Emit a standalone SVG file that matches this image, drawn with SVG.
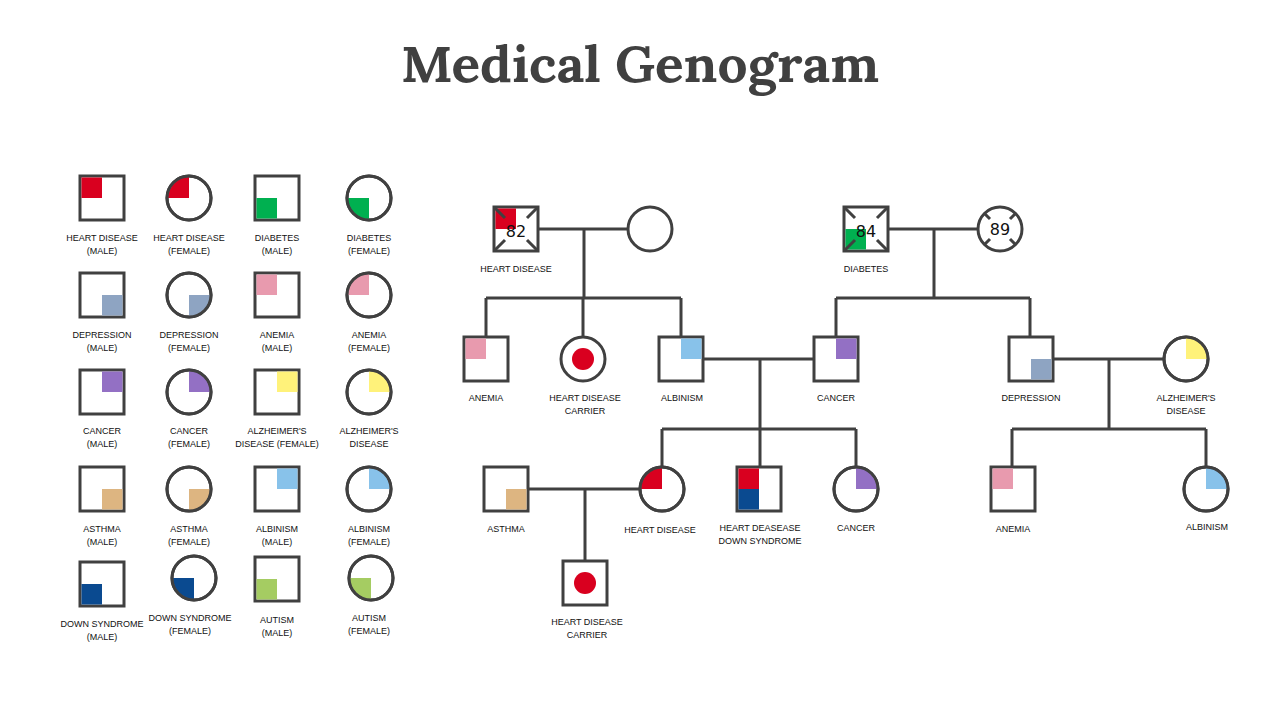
<svg xmlns="http://www.w3.org/2000/svg" width="1280" height="720" viewBox="0 0 1280 720">
<style>
.s{fill:#fff;stroke:#404040;stroke-width:3}
.f{fill:none;stroke:#404040;stroke-width:3}
.ln{fill:none;stroke:#404040;stroke-width:3}
.t{font-family:"Liberation Sans",Arial,sans-serif;font-size:9px;fill:#111;text-anchor:middle}
.n{font-family:"DejaVu Sans",sans-serif;font-size:16px;fill:#111;text-anchor:middle}
.hd{fill:#D9001F}.db{fill:#00B050}.an{fill:#E89AAE}.dp{fill:#8EA4C2}.ca{fill:#9370C4}.az{fill:#FFF27A}.as{fill:#DDB581}.al{fill:#88C2EA}.ds{fill:#0A4A90}.au{fill:#A5CC62}
</style>
<rect width="1280" height="720" fill="#fff"/>
<text x="640" y="82" font-family="Lora,'DejaVu Serif','Liberation Serif',serif" font-weight="bold" font-size="50" fill="#404040" text-anchor="middle" textLength="478" lengthAdjust="spacingAndGlyphs">Medical Genogram</text>

<g id="legend">
<g id="lg-hd-m"><rect class="s" x="80" y="176" width="44" height="44"/><rect class="hd" x="81.5" y="177.5" width="20.5" height="20.5"/><text class="t" x="102" y="241">HEART DISEASE</text><text class="t" x="102" y="254">(MALE)</text></g>
<g id="lg-hd-f"><circle class="s" cx="189" cy="198" r="22"/><path class="hd" d="M189 198H168A21 21 0 0 1 189 177Z"/><circle class="f" cx="189" cy="198" r="22"/><text class="t" x="189" y="241">HEART DISEASE</text><text class="t" x="189" y="254">(FEMALE)</text></g>
<g id="lg-db-m"><rect class="s" x="255" y="176" width="44" height="44"/><rect class="db" x="256.5" y="198" width="20.5" height="20.5"/><text class="t" x="277" y="241">DIABETES</text><text class="t" x="277" y="254">(MALE)</text></g>
<g id="lg-db-f"><circle class="s" cx="369" cy="198" r="22"/><path class="db" d="M369 198V219A21 21 0 0 1 348 198Z"/><circle class="f" cx="369" cy="198" r="22"/><text class="t" x="369" y="241">DIABETES</text><text class="t" x="369" y="254">(FEMALE)</text></g>

<g id="lg-dp-m"><rect class="s" x="80" y="273" width="44" height="44"/><rect class="dp" x="102" y="295" width="20.5" height="20.5"/><text class="t" x="102" y="338">DEPRESSION</text><text class="t" x="102" y="351">(MALE)</text></g>
<g id="lg-dp-f"><circle class="s" cx="189" cy="295" r="22"/><path class="dp" d="M189 295H210A21 21 0 0 1 189 316Z"/><circle class="f" cx="189" cy="295" r="22"/><text class="t" x="189" y="338">DEPRESSION</text><text class="t" x="189" y="351">(FEMALE)</text></g>
<g id="lg-an-m"><rect class="s" x="255" y="273" width="44" height="44"/><rect class="an" x="256.5" y="274.5" width="20.5" height="20.5"/><text class="t" x="277" y="338">ANEMIA</text><text class="t" x="277" y="351">(MALE)</text></g>
<g id="lg-an-f"><circle class="s" cx="369" cy="295" r="22"/><path class="an" d="M369 295H348A21 21 0 0 1 369 274Z"/><circle class="f" cx="369" cy="295" r="22"/><text class="t" x="369" y="338">ANEMIA</text><text class="t" x="369" y="351">(FEMALE)</text></g>

<g id="lg-ca-m"><rect class="s" x="80" y="370" width="44" height="44"/><rect class="ca" x="102" y="371.5" width="20.5" height="20.5"/><text class="t" x="102" y="434">CANCER</text><text class="t" x="102" y="447">(MALE)</text></g>
<g id="lg-ca-f"><circle class="s" cx="189" cy="392" r="22"/><path class="ca" d="M189 392V371A21 21 0 0 1 210 392Z"/><circle class="f" cx="189" cy="392" r="22"/><text class="t" x="189" y="434">CANCER</text><text class="t" x="189" y="447">(FEMALE)</text></g>
<g id="lg-az-m"><rect class="s" x="255" y="370" width="44" height="44"/><rect class="az" x="277" y="371.5" width="20.5" height="20.5"/><text class="t" x="277" y="434">ALZHEIMER'S</text><text class="t" x="277" y="447">DISEASE (FEMALE)</text></g>
<g id="lg-az-f"><circle class="s" cx="369" cy="392" r="22"/><path class="az" d="M369 392V371A21 21 0 0 1 390 392Z"/><circle class="f" cx="369" cy="392" r="22"/><text class="t" x="369" y="434">ALZHEIMER'S</text><text class="t" x="369" y="447">DISEASE</text></g>

<g id="lg-as-m"><rect class="s" x="80" y="467" width="44" height="44"/><rect class="as" x="102" y="489" width="20.5" height="20.5"/><text class="t" x="102" y="532">ASTHMA</text><text class="t" x="102" y="545">(MALE)</text></g>
<g id="lg-as-f"><circle class="s" cx="189" cy="489" r="22"/><path class="as" d="M189 489H210A21 21 0 0 1 189 510Z"/><circle class="f" cx="189" cy="489" r="22"/><text class="t" x="189" y="532">ASTHMA</text><text class="t" x="189" y="545">(FEMALE)</text></g>
<g id="lg-al-m"><rect class="s" x="255" y="467" width="44" height="44"/><rect class="al" x="277" y="468.5" width="20.5" height="20.5"/><text class="t" x="277" y="532">ALBINISM</text><text class="t" x="277" y="545">(MALE)</text></g>
<g id="lg-al-f"><circle class="s" cx="369" cy="489" r="22"/><path class="al" d="M369 489V468A21 21 0 0 1 390 489Z"/><circle class="f" cx="369" cy="489" r="22"/><text class="t" x="369" y="532">ALBINISM</text><text class="t" x="369" y="545">(FEMALE)</text></g>

<g id="lg-ds-m"><rect class="s" x="80" y="562" width="44" height="44"/><rect class="ds" x="81.5" y="584" width="20.5" height="20.5"/><text class="t" x="102" y="627">DOWN SYNDROME</text><text class="t" x="102" y="640">(MALE)</text></g>
<g id="lg-ds-f"><circle class="s" cx="194" cy="578" r="22"/><path class="ds" d="M194 578V599A21 21 0 0 1 173 578Z"/><circle class="f" cx="194" cy="578" r="22"/><text class="t" x="190" y="621">DOWN SYNDROME</text><text class="t" x="190" y="634">(FEMALE)</text></g>
<g id="lg-au-m"><rect class="s" x="255" y="557" width="44" height="44"/><rect class="au" x="256.5" y="579" width="20.5" height="20.5"/><text class="t" x="277" y="623">AUTISM</text><text class="t" x="277" y="636">(MALE)</text></g>
<g id="lg-au-f"><circle class="s" cx="371" cy="578" r="22"/><path class="au" d="M371 578V599A21 21 0 0 1 350 578Z"/><circle class="f" cx="371" cy="578" r="22"/><text class="t" x="369" y="621">AUTISM</text><text class="t" x="369" y="634">(FEMALE)</text></g>
</g>

<g id="connectors">
<path class="ln" d="M538 229H628M584 229V298M486 298H681M486 298V337M583 298V337M681 298V337"/>
<path class="ln" d="M703 359H814M760 359V429M662 429H856M662 429V467M760 429V467M856 429V467"/>
<path class="ln" d="M888 229H978M934 229V298M836 298H1030M836 298V337M1030 298V337"/>
<path class="ln" d="M1053 359H1164M1109 359V429M1012 429H1206M1012 429V467M1206 429V467"/>
<path class="ln" d="M528 489H640M585 489V561"/>
</g>

<g id="gf1"><rect class="s" x="494" y="207" width="44" height="44"/><rect class="hd" x="495.5" y="208.5" width="20.5" height="20.5"/><path class="ln" d="M495 208l10 10M537 208l-10 10M495 250l10-10M537 250l-10-10"/><text class="n" x="516" y="237">82</text><text class="t" x="516" y="272">HEART DISEASE</text></g>
<g id="gm1"><circle class="s" cx="650" cy="229" r="22"/></g>
<g id="gf2"><rect class="s" x="844" y="207" width="44" height="44"/><rect class="db" x="845.5" y="229" width="20.5" height="20.5"/><path class="ln" d="M845 208l10 10M887 208l-10 10M845 250l10-10M887 250l-10-10"/><text class="n" x="866" y="237">84</text><text class="t" x="866" y="272">DIABETES</text></g>
<g id="gm2"><circle class="s" cx="1000" cy="229" r="22"/><path class="ln" d="M985 214l5 5M1015 214l-5 5M985 244l5-5M1015 244l-5-5"/><text class="n" x="1000" y="235">89</text></g>

<g id="p-anemia"><rect class="s" x="464" y="337" width="44" height="44"/><rect class="an" x="465.5" y="338.5" width="20.5" height="20.5"/><text class="t" x="486" y="401">ANEMIA</text></g>
<g id="p-carrier1"><circle class="s" cx="583" cy="359" r="22"/><circle class="hd" cx="583" cy="359" r="11"/><text class="t" x="585" y="401">HEART DISEASE</text><text class="t" x="585" y="414">CARRIER</text></g>
<g id="p-albinism"><rect class="s" x="659" y="337" width="44" height="44"/><rect class="al" x="681" y="338.5" width="20.5" height="20.5"/><text class="t" x="682" y="401">ALBINISM</text></g>
<g id="p-cancer"><rect class="s" x="814" y="337" width="44" height="44"/><rect class="ca" x="836" y="338.5" width="20.5" height="20.5"/><text class="t" x="836" y="401">CANCER</text></g>
<g id="p-depression"><rect class="s" x="1009" y="337" width="44" height="44"/><rect class="dp" x="1031" y="359" width="20.5" height="20.5"/><text class="t" x="1031" y="401">DEPRESSION</text></g>
<g id="p-alz"><circle class="s" cx="1186" cy="359" r="22"/><path class="az" d="M1186 359V338A21 21 0 0 1 1207 359Z"/><circle class="f" cx="1186" cy="359" r="22"/><text class="t" x="1186" y="401">ALZHEIMER'S</text><text class="t" x="1186" y="414">DISEASE</text></g>

<g id="c-asthma"><rect class="s" x="484" y="467" width="44" height="44"/><rect class="as" x="506" y="489" width="20.5" height="20.5"/><text class="t" x="506" y="532">ASTHMA</text></g>
<g id="c-hd"><circle class="s" cx="662" cy="489" r="22"/><path class="hd" d="M662 489H641A21 21 0 0 1 662 468Z"/><circle class="f" cx="662" cy="489" r="22"/><text class="t" x="660" y="533">HEART DISEASE</text></g>
<g id="c-hdds"><rect class="s" x="737" y="467" width="44" height="44"/><rect class="hd" x="738.5" y="468.5" width="20.5" height="20.5"/><rect class="ds" x="738.5" y="489" width="20.5" height="20.5"/><text class="t" x="760" y="531">HEART DEASEASE</text><text class="t" x="760" y="544">DOWN SYNDROME</text></g>
<g id="c-cancer"><circle class="s" cx="856" cy="489" r="22"/><path class="ca" d="M856 489V468A21 21 0 0 1 877 489Z"/><circle class="f" cx="856" cy="489" r="22"/><text class="t" x="856" y="531">CANCER</text></g>
<g id="c-anemia"><rect class="s" x="991" y="467" width="44" height="44"/><rect class="an" x="992.5" y="468.5" width="20.5" height="20.5"/><text class="t" x="1013" y="532">ANEMIA</text></g>
<g id="c-albinism"><circle class="s" cx="1206" cy="489" r="22"/><path class="al" d="M1206 489V468A21 21 0 0 1 1227 489Z"/><circle class="f" cx="1206" cy="489" r="22"/><text class="t" x="1207" y="530">ALBINISM</text></g>
<g id="gc-carrier"><rect class="s" x="563" y="561" width="44" height="44"/><circle class="hd" cx="585" cy="583" r="11"/><text class="t" x="587" y="625">HEART DISEASE</text><text class="t" x="587" y="638">CARRIER</text></g>
</svg>
